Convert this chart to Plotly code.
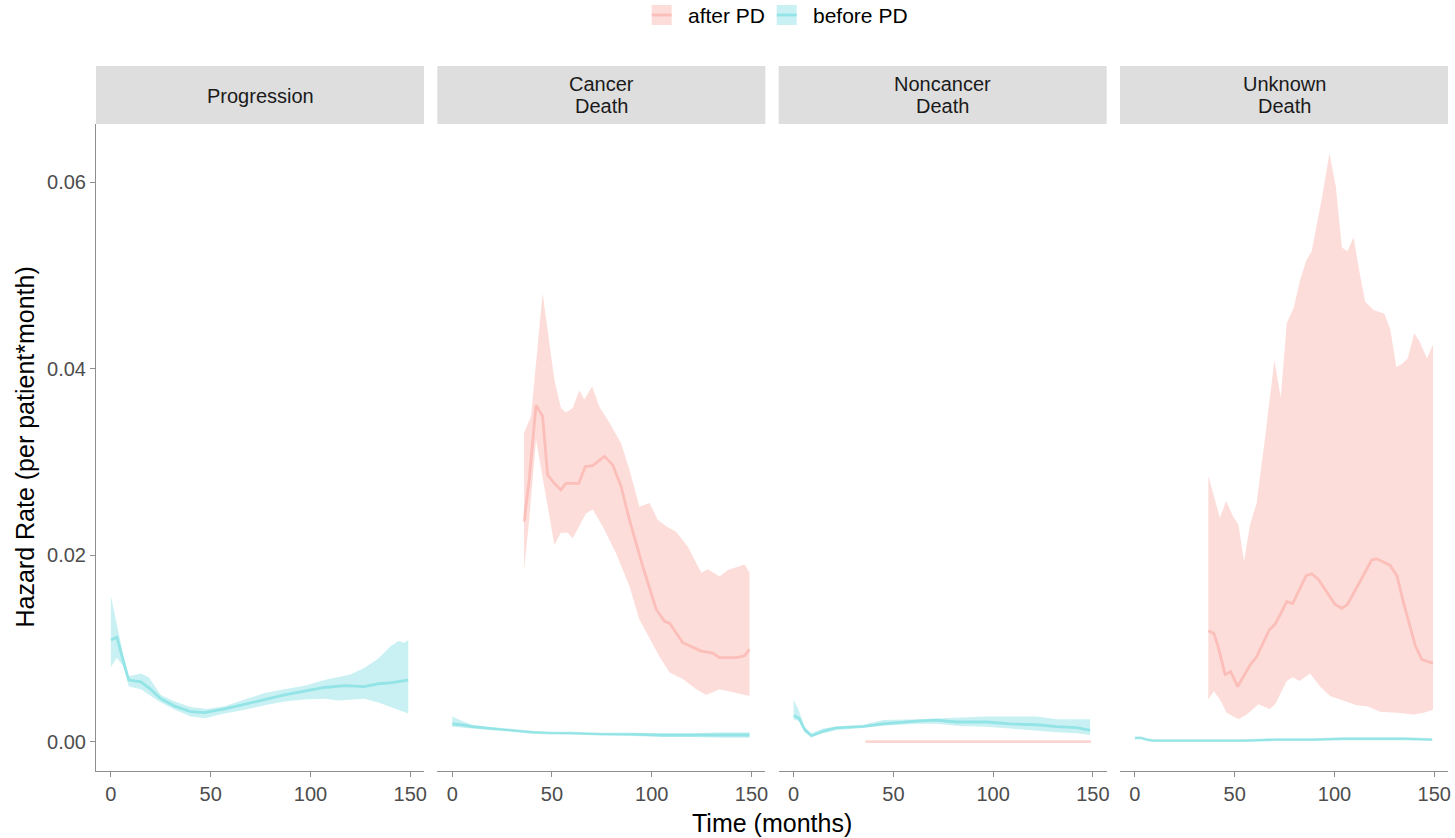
import plotly.graph_objects as go

# ---------------- data ----------------
facets = ["Progression", "Cancer\nDeath", "Noncancer\nDeath", "Unknown\nDeath"]
groups = ["after PD", "before PD"]
x_ticks = [0, 50, 100, 150]
y_ticks = [0.00, 0.02, 0.04, 0.06]
y_tick_labels = ["0.00", "0.02", "0.04", "0.06"]

# Progression - before PD
prog_b_x = [0, 3, 6, 9, 15, 20, 25, 32, 40, 47, 57, 67, 77, 87, 97, 107, 117, 127, 134, 140, 149]
prog_b_est = [0.0109, 0.0112, 0.0088, 0.0066, 0.0064, 0.0056, 0.0046, 0.0038, 0.0032, 0.0031, 0.0035,
              0.0040, 0.0045, 0.0050, 0.0054, 0.0058, 0.0060, 0.0059, 0.0062, 0.0063, 0.0066]
prog_b_up_x = [0, 6, 9, 15, 19, 25, 32, 40, 48, 57, 67, 77, 87, 97, 107, 114, 120, 127, 134, 140, 144, 147, 149]
prog_b_up = [0.0156, 0.0095, 0.0070, 0.0073, 0.0069, 0.0050, 0.0043, 0.0037, 0.0035, 0.0038, 0.0045, 0.0052,
             0.0056, 0.0060, 0.0066, 0.0069, 0.0072, 0.0079, 0.0089, 0.0102, 0.0108, 0.0106, 0.0109]
prog_b_lo_x = [0, 3, 6, 9, 15, 20, 25, 32, 40, 47, 57, 67, 77, 87, 97, 107, 114, 120, 127, 134, 140, 149]
prog_b_lo = [0.0080, 0.0090, 0.0081, 0.0059, 0.0056, 0.0049, 0.0042, 0.0034, 0.0027, 0.0025, 0.0030, 0.0034,
             0.0039, 0.0043, 0.0045, 0.0046, 0.0044, 0.0045, 0.0046, 0.0042, 0.0037, 0.0030]

# Cancer Death - after PD
canc_a_x = [36, 38.6, 42, 45.3, 47.8, 51.2, 54.5, 57, 63.4, 66.7, 70.4, 76.3, 80.4, 84.6, 88.8, 95.5,
            102.2, 106.4, 108.9, 115.6, 124.8, 130.6, 134, 142.3, 146.5, 149]
canc_a_est = [0.0236, 0.0281, 0.0361, 0.0349, 0.0286, 0.0277, 0.0270, 0.0277, 0.0277, 0.0295, 0.0296,
              0.0306, 0.0297, 0.0274, 0.0238, 0.0188, 0.0142, 0.0129, 0.0127, 0.0106, 0.0097, 0.0095,
              0.0090, 0.0090, 0.0092, 0.0099]
canc_a_up_x = [36, 39.5, 45.3, 51.2, 54.5, 57, 60.4, 63.7, 66.2, 70.1, 73.8, 78.8, 84.6, 88.8, 93.8, 98.9,
               103, 107.2, 112.2, 118.1, 124.8, 128.1, 134, 138.2, 146.5, 149]
canc_a_up = [0.0331, 0.0349, 0.0481, 0.0388, 0.0358, 0.0353, 0.0358, 0.0377, 0.0367, 0.0381, 0.0359, 0.0342,
             0.0320, 0.0292, 0.0252, 0.0256, 0.0238, 0.0231, 0.0225, 0.0209, 0.0181, 0.0185, 0.0177, 0.0184,
             0.0190, 0.0181]
canc_a_lo_x = [36, 38.6, 42, 45.3, 51.2, 54.5, 57.9, 60.4, 67.1, 70.4, 75.4, 82.1, 88.8, 93.8, 103.9, 108.9,
               115.6, 122.3, 127.3, 134, 142.3, 149]
canc_a_lo = [0.0184, 0.0238, 0.0324, 0.0281, 0.0211, 0.0224, 0.0224, 0.0218, 0.0245, 0.0249, 0.0231, 0.0202,
             0.0167, 0.0131, 0.0091, 0.0074, 0.0067, 0.0056, 0.0050, 0.0056, 0.0052, 0.0049]

# Cancer Death - before PD
canc_b_x = [0, 5, 10, 20, 30, 40, 50, 60, 75, 90, 105, 120, 135, 149]
canc_b_est = [0.0019, 0.0018, 0.0016, 0.0014, 0.0012, 0.0010, 0.0009, 0.0009, 0.0008, 0.0008, 0.0007, 0.0007, 0.0007, 0.0007]
canc_b_up = [0.0027, 0.0022, 0.0018, 0.0015, 0.0013, 0.0011, 0.0010, 0.0010, 0.0009, 0.0009, 0.0009, 0.0009, 0.0010, 0.0010]
canc_b_lo = [0.0016, 0.0015, 0.0014, 0.0012, 0.0011, 0.0009, 0.0008, 0.0008, 0.0007, 0.0006, 0.0005, 0.0005, 0.0004, 0.0004]

# Noncancer Death - after PD
nonc_a_x = [36, 60, 90, 120, 149]
nonc_a_est = [0.0, 0.0, 0.0, 0.0, 0.0]
nonc_a_up = [0.0, 0.0, 0.0, 0.0, 0.0]
nonc_a_lo = [0.0, 0.0, 0.0, 0.0, 0.0]

# Noncancer Death - before PD
nonc_b_x = [0, 2.7, 5.5, 8.9, 14.7, 21.4, 34.8, 44.8, 61.5, 71.6, 81.6, 96.7, 108.4, 121.8, 131.8, 141.9, 148.6]
nonc_b_est = [0.0028, 0.0025, 0.0013, 0.0006, 0.0011, 0.0015, 0.0016, 0.0019, 0.0022, 0.0023, 0.0021, 0.0021,
              0.0019, 0.0018, 0.0016, 0.0015, 0.0012]
nonc_b_up = [0.0045, 0.0033, 0.0016, 0.0009, 0.0014, 0.0016, 0.0018, 0.0023, 0.0024, 0.0025, 0.0026, 0.0027,
             0.0027, 0.0027, 0.0024, 0.0024, 0.0024]
nonc_b_lo = [0.0024, 0.0022, 0.0010, 0.0005, 0.0009, 0.0012, 0.0015, 0.0017, 0.0019, 0.0019, 0.0017, 0.0016,
             0.0014, 0.0012, 0.0010, 0.0009, 0.0007]

# Unknown Death - after PD
unk_a_x = [36.8, 39.6, 41.8, 45.2, 48, 51.5, 57.7, 61, 67.4, 70.3, 76.1, 79.1, 85.8, 88.6, 92, 100.3, 103.7,
           106.5, 112.9, 118.7, 121.3, 127.9, 131.3, 134.6, 140.5, 143.8, 149.4]
unk_a_est = [0.0119, 0.0116, 0.0101, 0.0072, 0.0075, 0.0059, 0.0082, 0.0091, 0.0120, 0.0126, 0.0150, 0.0148,
             0.0178, 0.0180, 0.0174, 0.0147, 0.0143, 0.0147, 0.0172, 0.0195, 0.0196, 0.0189, 0.0178, 0.0149,
             0.0103, 0.0088, 0.0084]
unk_a_up_x = [36.8, 39.3, 42.6, 45.7, 49.3, 51.9, 54.7, 57.7, 61, 65.3, 69.9, 73.1, 76.1, 79.5, 82.8, 85.8,
              88.6, 93.7, 97.5, 100.7, 103.7, 106.5, 109.6, 112.6, 115.4, 119.6, 122.1, 125, 128, 131, 133.8,
              136.7, 140, 142.7, 146.4, 149.4]
unk_a_up = [0.0285, 0.0266, 0.0240, 0.0258, 0.0241, 0.0233, 0.0193, 0.0233, 0.0256, 0.0327, 0.0409, 0.0369,
            0.0449, 0.0465, 0.0495, 0.0516, 0.0526, 0.0583, 0.0631, 0.0595, 0.0530, 0.0526, 0.0541, 0.0503,
            0.0472, 0.0463, 0.0461, 0.0459, 0.0442, 0.0402, 0.0405, 0.0411, 0.0438, 0.0429, 0.0411, 0.0426]
unk_a_lo_x = [36.8, 39.6, 42.6, 46, 51.9, 56.1, 61.9, 64.4, 67.4, 70.3, 76.1, 79.1, 82.5, 87.8, 92.8, 97.8,
              104.5, 111.2, 116.3, 122.9, 131.3, 139.7, 144.7, 149.4]
unk_a_lo = [0.0045, 0.0054, 0.0045, 0.0031, 0.0024, 0.0029, 0.0040, 0.0038, 0.0035, 0.0040, 0.0065, 0.0069,
            0.0065, 0.0073, 0.0059, 0.0049, 0.0044, 0.0039, 0.0038, 0.0032, 0.0031, 0.0029, 0.0031, 0.0034]

# Unknown Death - before PD
unk_b_x = [0, 3, 6, 9, 20, 40, 55, 70, 90, 105, 120, 135, 149]
unk_b_est = [0.0004, 0.0004, 0.0002, 0.0001, 0.0001, 0.0001, 0.0001, 0.0002, 0.0002, 0.0003, 0.0003, 0.0003, 0.0002]
unk_b_up = [0.0005, 0.0005, 0.0003, 0.0002, 0.0002, 0.0002, 0.0002, 0.0003, 0.0003, 0.0004, 0.0004, 0.0004, 0.0003]
unk_b_lo = [0.0003, 0.0003, 0.0001, 0.0000, 0.0000, 0.0000, 0.0000, 0.0001, 0.0001, 0.0002, 0.0002, 0.0002, 0.0001]

# (panel, group, est_x, est, up_x, up, lo_x, lo)
series = [
    (0, "before PD", prog_b_x, prog_b_est, prog_b_up_x, prog_b_up, prog_b_lo_x, prog_b_lo),
    (1, "after PD", canc_a_x, canc_a_est, canc_a_up_x, canc_a_up, canc_a_lo_x, canc_a_lo),
    (1, "before PD", canc_b_x, canc_b_est, canc_b_x, canc_b_up, canc_b_x, canc_b_lo),
    (2, "after PD", nonc_a_x, nonc_a_est, nonc_a_x, nonc_a_up, nonc_a_x, nonc_a_lo),
    (2, "before PD", nonc_b_x, nonc_b_est, nonc_b_x, nonc_b_up, nonc_b_x, nonc_b_lo),
    (3, "after PD", unk_a_x, unk_a_est, unk_a_up_x, unk_a_up, unk_a_lo_x, unk_a_lo),
    (3, "before PD", unk_b_x, unk_b_est, unk_b_x, unk_b_up, unk_b_x, unk_b_lo),
]

# ---------------- style ----------------
W, H = 1455, 838
ML, MR, MT, MB = 96, 7, 0, 67
PW, PH = W - ML - MR, H - MT - MB
FONT = "Liberation Sans, Arial, Helvetica, sans-serif"
fill_col = {"after PD": "rgba(248,118,109,0.25)", "before PD": "rgba(0,191,196,0.21)"}
line_col = {"after PD": "rgba(248,118,109,0.30)", "before PD": "rgba(0,191,196,0.27)"}
AXC = "#8f8f8f"
TICKC = "#4d4d4d"


def px_x(px):
    return (px - ML) / PW


def px_y(py):
    return (H - MB - py) / PH


panel_left = [96, 437.3, 778.7, 1120]
panel_w = 328
top_px, bot_px = 124, 771
xr = [-7.47, 156.9]
yr = [-0.00316, 0.06626]

fig = go.Figure()

for (p, g, ex, ey, ux, uy, lx, ly) in series:
    xa = "x" if p == 0 else f"x{p+1}"
    ya = "y" if p == 0 else f"y{p+1}"
    fig.add_trace(go.Scatter(
        x=list(ux) + list(lx)[::-1], y=list(uy) + list(ly)[::-1],
        fill="toself", fillcolor=fill_col[g], line=dict(width=0),
        mode="lines", hoverinfo="skip", showlegend=False, xaxis=xa, yaxis=ya))
for (p, g, ex, ey, ux, uy, lx, ly) in series:
    xa = "x" if p == 0 else f"x{p+1}"
    ya = "y" if p == 0 else f"y{p+1}"
    fig.add_trace(go.Scatter(
        x=ex, y=ey, mode="lines", line=dict(color=line_col[g], width=2.8),
        name=g, showlegend=False, xaxis=xa, yaxis=ya))

layout = dict(
    width=W, height=H, margin=dict(l=ML, r=MR, t=MT, b=MB),
    paper_bgcolor="white", plot_bgcolor="white",
    font=dict(family=FONT, color="#000000"),
    showlegend=False,
)
shapes = []
annotations = []
for i in range(4):
    d0 = max(0.0, px_x(panel_left[i]))
    d1 = min(1.0, px_x(panel_left[i] + panel_w))
    key = "" if i == 0 else str(i + 1)
    layout["xaxis" + key] = dict(
        domain=[d0, d1], range=xr, tickvals=x_ticks, ticktext=[str(t) for t in x_ticks],
        showgrid=False, zeroline=False, showline=True, linecolor=AXC, linewidth=1,
        ticks="outside", ticklen=5, tickcolor=AXC, tickwidth=1,
        tickfont=dict(size=20, color=TICKC, family=FONT), anchor="y" + key, fixedrange=True)
    ya = dict(domain=[0, px_y(top_px)], range=yr, showgrid=False, zeroline=False,
              anchor="x" + key, fixedrange=True)
    if i == 0:
        ya.update(showline=True, linecolor=AXC, linewidth=1, ticks="outside", ticklen=5,
                  tickcolor=AXC, tickwidth=1, tickvals=y_ticks, ticktext=y_tick_labels,
                  tickfont=dict(size=20, color=TICKC, family=FONT))
    else:
        ya.update(showline=False, showticklabels=False, ticks="")
    layout["yaxis" + key] = ya

    # strip
    shapes.append(dict(type="rect", xref="paper", yref="paper", x0=d0, x1=d1,
                       y0=px_y(124), y1=px_y(66), fillcolor="#dedede", line=dict(width=0), layer="below"))
    lines = facets[i].split("\n")
    centers = [96] if len(lines) == 1 else [84, 106]
    for txt, cy in zip(lines, centers):
        annotations.append(dict(text=txt, xref="paper", yref="paper", x=(d0 + d1) / 2, y=px_y(cy),
                                showarrow=False, xanchor="center", yanchor="middle",
                                font=dict(size=20, color="#1a1a1a", family=FONT)))

# axis titles
annotations.append(dict(text="Time (months)", xref="paper", yref="paper", x=px_x(772), y=px_y(823),
                        showarrow=False, xanchor="center", yanchor="middle",
                        font=dict(size=25, color="#000000", family=FONT)))
annotations.append(dict(text="Hazard Rate (per patient*month)", xref="paper", yref="paper",
                        x=px_x(25), y=px_y((top_px + bot_px) / 2), textangle=-90,
                        showarrow=False, xanchor="center", yanchor="middle",
                        font=dict(size=25, color="#000000", family=FONT)))

# legend (drawn manually, ggplot style)
legend_swatch_x = [651.7, 776.7]
for g, sx in zip(groups, legend_swatch_x):
    shapes.append(dict(type="rect", xref="paper", yref="paper", x0=px_x(sx), x1=px_x(sx + 20),
                       y0=px_y(25), y1=px_y(5), fillcolor=fill_col[g], line=dict(width=0)))
    shapes.append(dict(type="line", xref="paper", yref="paper", x0=px_x(sx), x1=px_x(sx + 20),
                       y0=px_y(15), y1=px_y(15), line=dict(color=line_col[g], width=2.8)))
    annotations.append(dict(text=g, xref="paper", yref="paper", x=px_x(sx + 34), y=px_y(15),
                            showarrow=False, xanchor="left", yanchor="middle",
                            font=dict(size=21, color="#000000", family=FONT)))

layout["shapes"] = shapes
layout["annotations"] = annotations
fig.update_layout(**layout)
fig.write_html("out.html")
